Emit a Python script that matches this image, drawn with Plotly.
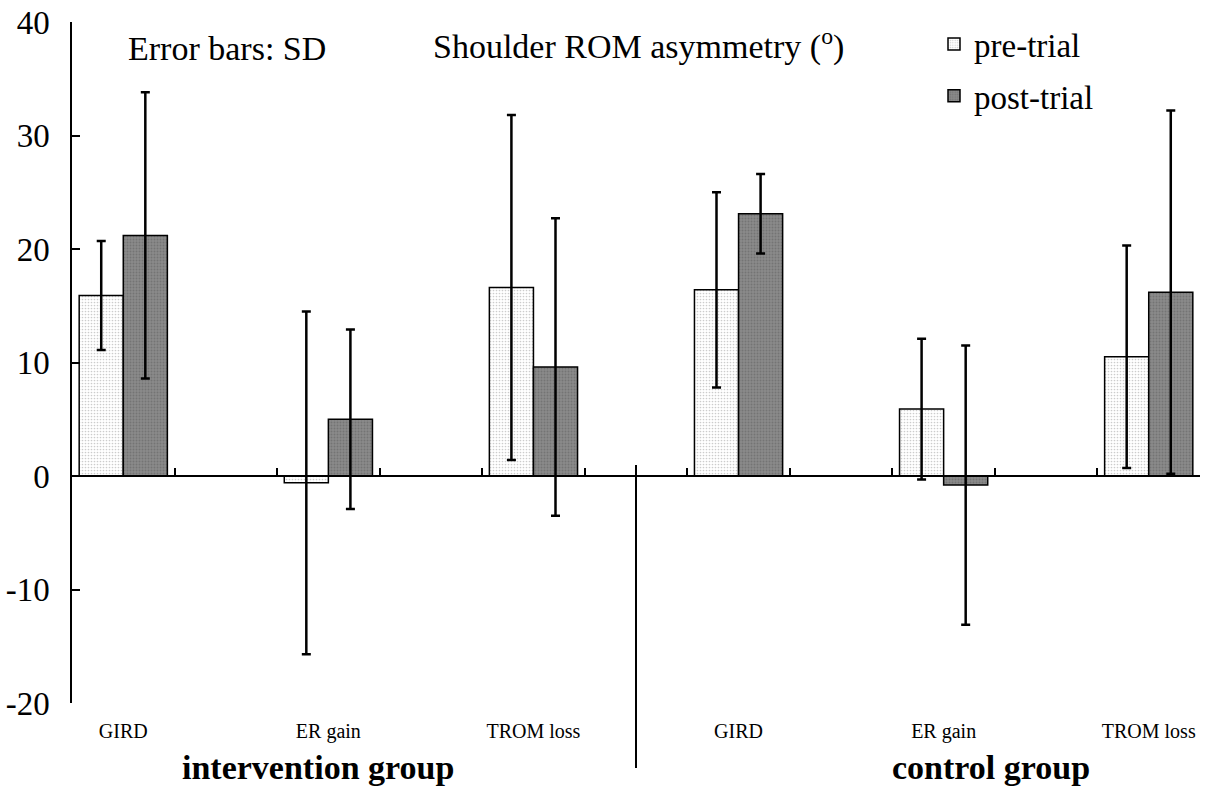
import plotly.graph_objects as go

# Shoulder ROM asymmetry (degrees), mean and SD per measure and group
groups = ["intervention group", "control group"]
measures = ["GIRD", "ER gain", "TROM loss", "GIRD", "ER gain", "TROM loss"]
x_pos = [0, 2, 4, 6, 8, 10]

pre_mean = [15.9, -0.6, 16.6, 16.4, 5.9, 10.5]
pre_sd = [4.8, 15.1, 15.2, 8.6, 6.2, 9.8]
post_mean = [21.2, 5.0, 9.6, 23.1, -0.8, 16.2]
post_sd = [12.6, 7.9, 13.1, 3.5, 12.3, 16.0]

y_ticks = [-20, -10, 0, 10, 20, 30, 40]
y_tick_text = ["-20", "-10", "0", "10", "20", "30", "40"]
axis_ticks = [0.5 + k for k in range(11)]

SERIF = "Liberation Serif, Times New Roman, serif"
W, H = 1205, 787
L, R, T, B = 72, 5, 22, 84
plot_w = W - L - R
plot_h = H - T - B


def px_x(px):
    return (px - L) / plot_w


def px_y(py):
    return (H - B - py) / plot_h


err_style = dict(type="data", visible=True, color="black", thickness=2.5, width=4.5)

fig = go.Figure()
fig.add_trace(go.Bar(
    name="pre-trial", x=x_pos, y=pre_mean,
    error_y=dict(array=pre_sd, **err_style),
    marker=dict(color="#ffffff", line=dict(color="black", width=1.5),
                pattern=dict(shape=".", fgcolor="#9a9a9a", bgcolor="#ffffff",
                             size=3, solidity=0.25, fillmode="overlay")),
    legendgroup="pre",
))
fig.add_trace(go.Bar(
    name="post-trial", x=x_pos, y=post_mean,
    error_y=dict(array=post_sd, **err_style),
    marker=dict(color="#858585", line=dict(color="black", width=1.5),
                pattern=dict(shape=".", fgcolor="#5e5e5e", bgcolor="#8a8a8a",
                             size=3, solidity=0.35, fillmode="overlay")),
    legendgroup="post",
))
# carrier for the zero axis with its category tick marks
fig.add_trace(go.Scatter(x=[None], y=[None], xaxis="x2", showlegend=False,
                         hoverinfo="skip"))

fig.update_layout(
    width=W, height=H,
    margin=dict(l=L, r=R, t=T, b=B),
    paper_bgcolor="white", plot_bgcolor="white",
    font=dict(family=SERIF, color="black"),
    barmode="group", bargap=0.57, bargroupgap=0,
    showlegend=True,
    legend=dict(x=px_x(934), y=px_y(16), xanchor="left", yanchor="top",
                font=dict(family=SERIF, size=33), traceorder="grouped",
                tracegroupgap=6, bgcolor="rgba(0,0,0,0)"),
    xaxis=dict(range=[-0.5, 10.5], tickvals=x_pos, ticktext=measures,
               tickfont=dict(family=SERIF, size=20), ticks="", showline=False,
               showgrid=False, zeroline=False, ticklabelstandoff=14),
    xaxis2=dict(range=[-0.5, 10.5], overlaying="x", anchor="free",
                position=(0 - y_ticks[0]) / (y_ticks[-1] - y_ticks[0]),
                showline=True, linecolor="black", linewidth=1.5,
                ticks="inside", tickvals=axis_ticks, ticklen=7, tickwidth=1.5,
                tickcolor="black", showticklabels=False, showgrid=False,
                zeroline=False),
    yaxis=dict(range=[y_ticks[0], y_ticks[-1]], tickvals=y_ticks,
               ticktext=y_tick_text,
               showline=True, linecolor="black", linewidth=1.5,
               ticks="inside", ticklen=8, tickwidth=1.5, tickcolor="black",
               tickfont=dict(family=SERIF, size=33), showgrid=False,
               zeroline=False, ticklabelstandoff=14),
)

# divider between the two groups
fig.add_shape(type="line", xref="x", yref="paper", x0=5, x1=5,
              y0=px_y(465), y1=px_y(768), line=dict(color="black", width=2))

text_pos = dict(xref="paper", yref="paper", showarrow=False,
                xanchor="center", yanchor="middle")
fig.add_annotation(text="Error bars: SD", x=px_x(227), y=px_y(49),
                   font=dict(family=SERIF, size=34), **text_pos)
fig.add_annotation(text="Shoulder ROM asymmetry (<sup>o</sup>)",
                   x=px_x(638), y=px_y(44),
                   font=dict(family=SERIF, size=34), **text_pos)
fig.add_annotation(text="<b>%s</b>" % groups[0], x=px_x(318), y=px_y(767),
                   font=dict(family=SERIF, size=34), **text_pos)
fig.add_annotation(text="<b>%s</b>" % groups[1], x=px_x(991), y=px_y(767),
                   font=dict(family=SERIF, size=34), **text_pos)

fig.write_html("out.html")
